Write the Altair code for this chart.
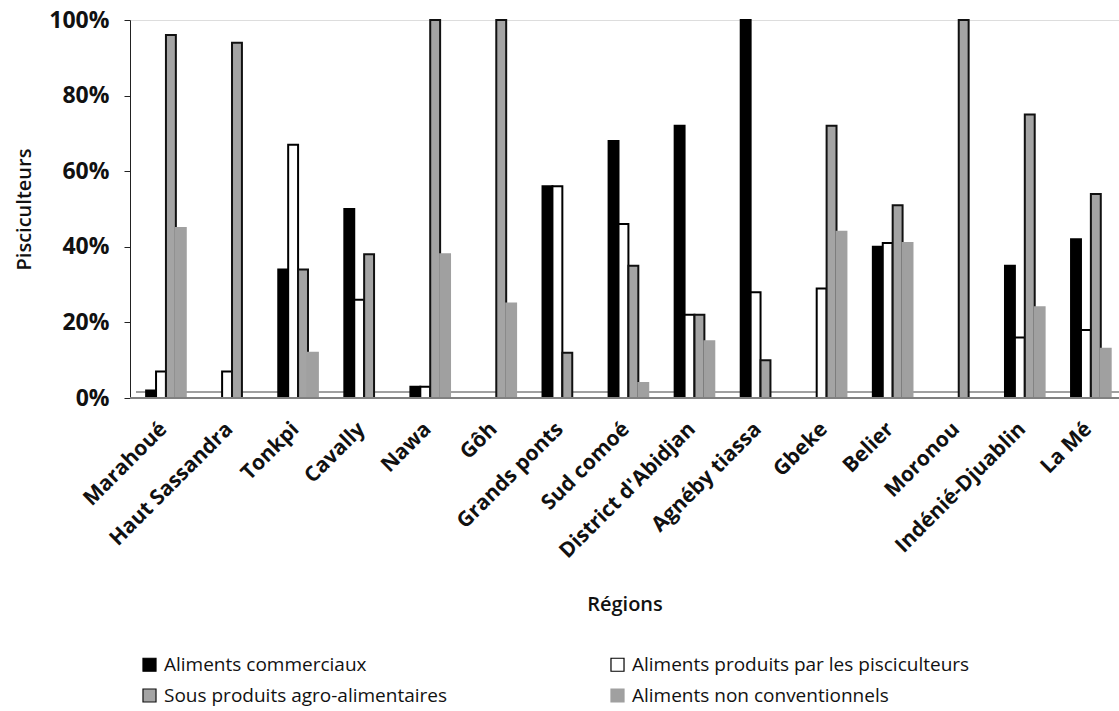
import altair as alt
import pandas as pd

regions = ["Marahoué", "Haut Sassandra", "Tonkpi", "Cavally", "Nawa", "Gôh",
           "Grands ponts", "Sud comoé", "District d'Abidjan", "Agnéby tiassa",
           "Gbeke", "Belier", "Moronou", "Indénié-Djuablin", "La Mé"]

series = ["Aliments commerciaux",
          "Aliments produits par les pisciculteurs",
          "Sous produits agro-alimentaires",
          "Aliments non conventionnels"]

# share of fish farmers (%) per region, one list per feed type
commerciaux = [2, 0, 34, 50, 3, 0, 56, 68, 72, 100, 0, 40, 0, 35, 42]
produits = [7, 7, 67, 26, 3, 0, 56, 46, 22, 28, 29, 41, 0, 16, 18]
sous_produits = [96, 94, 34, 38, 100, 100, 12, 35, 22, 10, 72, 51, 100, 75, 54]
non_conventionnels = [45, 0, 12, 0, 38, 25, 0, 4, 15, 0, 44, 41, 0, 24, 13]

fills = ["#000000", "#ffffff", "#a4a4a4", "#a0a0a0"]
strokes = ["#000000", "#000000", "#111111", "#a0a0a0"]

rows = []
for s, vals in zip(series, [commerciaux, produits, sous_produits, non_conventionnels]):
    for r, v in zip(regions, vals):
        rows.append({"region": r, "serie": s, "value": v / 100})
df = pd.DataFrame(rows)

FONT = "Open Sans"

bars = alt.Chart(df).mark_bar(strokeWidth=2, strokeJoin="miter").encode(
    x=alt.X("region:N", sort=regions,
            scale=alt.Scale(paddingInner=0.4, paddingOuter=0.185, align=0.66),
            axis=alt.Axis(title="Régions", labelAngle=-45, labelAlign="right",
                          labelBaseline="top", labelFont=FONT, labelFontSize=21,
                          labelFontWeight="bold", labelColor="#111", labelPadding=20,
                          labelOffset=-10, labelLimit=400,
                          ticks=False, domain=False, titleFont=FONT,
                          titleFontSize=20, titleFontWeight=600, titleColor="#111",
                          titleY=206, titleBaseline="middle")),
    xOffset=alt.XOffset("serie:N", sort=series, scale=alt.Scale(paddingInner=0)),
    y=alt.Y("value:Q",
            scale=alt.Scale(domain=[0, 1], nice=False),
            axis=alt.Axis(title="Pisciculteurs", format=".0%", values=[0, 0.2, 0.4, 0.6, 0.8, 1.0],
                          grid=False, labelFont=FONT, labelFontSize=23,
                          labelFontWeight="bold", labelColor="#111", tickSize=6,
                          tickColor="#222", domainColor="#222", labelPadding=15,
                          titleFont=FONT, titleFontSize=20, titleFontWeight=600,
                          titleColor="#111", titleX=-106, titleY=189,
                          titleBaseline="middle", titleAlign="center")),
    fill=alt.Fill("serie:N", sort=series,
                  scale=alt.Scale(domain=series, range=fills),
                  legend=alt.Legend(title=None, orient="none", legendX=10, legendY=635,
                                    direction="horizontal",
                                    columns=2, columnPadding=160, rowPadding=11,
                                    symbolType="square", symbolSize=170,
                                    symbolStrokeWidth=1.2,
                                    labelFont=FONT, labelFontSize=19, labelColor="#111",
                                    labelLimit=450, labelOffset=5)),
    stroke=alt.Stroke("serie:N", sort=series,
                      scale=alt.Scale(domain=series, range=strokes), legend=None),
)

# depth line of the floor just above the baseline
floor_back = alt.Chart(df).mark_rule(color="#a0a0a0", strokeWidth=1.5).encode(
    x=alt.value(6), x2=alt.value(989), y=alt.value(372)
)
floor_front = alt.Chart(df).mark_rule(color="#808080", strokeWidth=2).encode(
    x=alt.value(0), x2=alt.value(989), y=alt.value(378)
)

chart = alt.layer(floor_back, bars, floor_front).properties(
    width=989, height=378,
    autosize=alt.AutoSizeParams(type="none"),
    padding={"left": 130, "top": 20, "right": 0, "bottom": 313},
).configure_view(stroke=None).configure(background="white")

chart.save("out.html", embed_options={"renderer": "svg", "actions": False})
